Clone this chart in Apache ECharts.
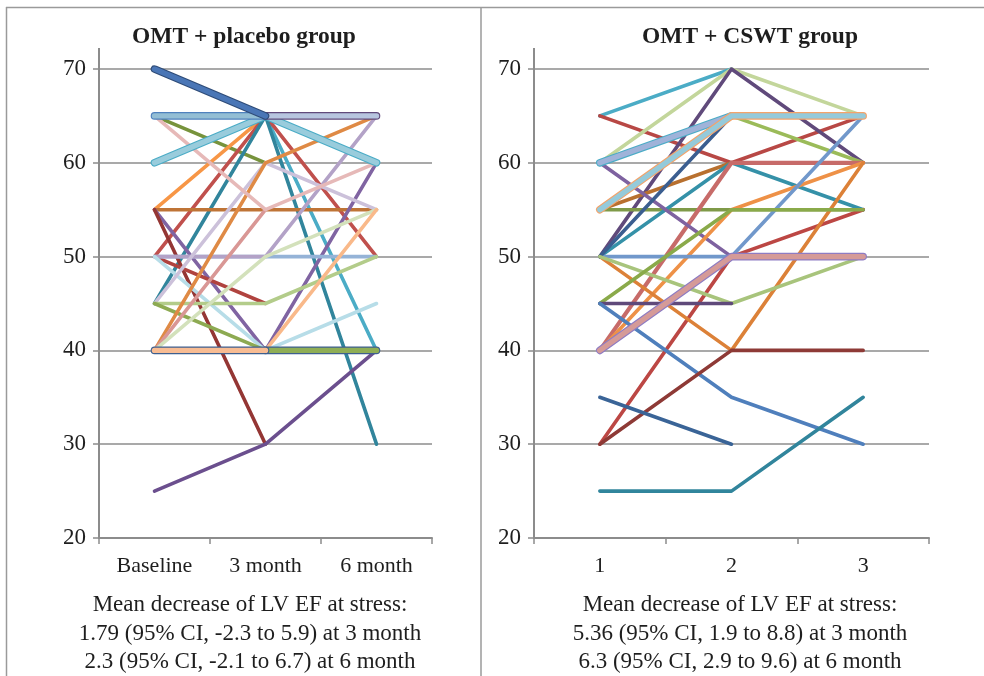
<!DOCTYPE html>
<html>
<head>
<meta charset="utf-8">
<script src="https://cdn.jsdelivr.net/npm/echarts@6/dist/echarts.min.js"></script>
<style>
  html, body { margin: 0; padding: 0; background: #fff; }
  #chart { width: 984px; height: 676px; }
</style>
</head>
<body>
<div id="chart"></div>
<script>
// ---- data: LV EF at stress (%) per patient, one row per patient ----
const placeboCategories = ['Baseline', '3 month', '6 month'];
const cswtCategories = ['1', '2', '3'];

const placeboValues = [
  [60, 65, 40],
  [65, 60, null],
  [55, 65, null],
  [50, 65, 50],
  [45, 65, 30],
  [55, 55, 55],
  [55, 40, 60],
  [55, 30, null],
  [50, 45, null],
  [50, 50, 50],
  [50, 50, 65],
  [50, 40, 45],
  [45, 60, 55],
  [45, 45, 50],
  [45, 40, null],
  [40, 60, 65],
  [40, 55, null],
  [65, 55, 60],
  [40, 50, 55],
  [40, 40, 55],
  [25, 30, 40],
  [null, 40, 40],
  [40, 40, null],
  [60, 65, 60],
  [65, 65, null],
  [null, 65, 65],
  [70, 65, null]
];

const cswtValues = [
  [65, 70, null],
  [65, 60, 65],
  [60, 70, 65],
  [50, 70, 60],
  [60, 65, 60],
  [55, 60, null],
  [55, 55, 55],
  [50, 60, 55],
  [40, 60, 60],
  [60, 50, 50],
  [40, 55, 60],
  [50, 50, 65],
  [30, 50, 55],
  [50, 40, 60],
  [50, 65, null],
  [50, 45, 50],
  [45, 55, 55],
  [45, 45, null],
  [45, 35, 30],
  [30, 40, 40],
  [35, 30, null],
  [25, 25, 35],
  [60, 65, null],
  [55, 65, 65],
  [40, 50, 50]
];

const placeboTitle = 'OMT + placebo group';
const cswtTitle = 'OMT + CSWT group';
const placeboNotes = [
  'Mean decrease of LV EF at stress:',
  '1.79 (95% CI, -2.3 to 5.9) at 3 month',
  '2.3 (95% CI, -2.1 to 6.7) at 6 month'
];
const cswtNotes = [
  'Mean decrease of LV EF at stress:',
  '5.36 (95% CI, 1.9 to 8.8) at 3 month',
  '6.3 (95% CI, 2.9 to 9.6) at 6 month'
];

// ---- line styles (same order as the value rows) ----
const THIN = 3.6;
const THICK = 5.4;
const placeboStyles = [
  { c: '#4BACC6' }, { c: '#77933C' }, { c: '#F79646' }, { c: '#C0504D' },
  { c: '#31859C' }, { c: '#BF7436' }, { c: '#8064A2' }, { c: '#943634' },
  { c: '#B0433F' }, { c: '#95B3D7' }, { c: '#B3A2C7' }, { c: '#B7DDE8' },
  { c: '#CCC1DA' }, { c: '#B3CC8A' }, { c: '#8DAA52' }, { c: '#DF8A45' },
  { c: '#D99795' }, { c: '#E6B9B8' }, { c: '#D3E1BB' }, { c: '#F9B98A' },
  { c: '#6B4F8E' },
  { c: '#8FAE55', w: THICK, edge: '#3E5F8F' },
  { c: '#F8BC93', w: THICK, edge: '#3E5F8F' },
  { c: '#99CCDC', w: THICK, edge: '#4BACC6' },
  { c: '#93BED4', w: THICK, edge: '#4F81BD' },
  { c: '#B7C5DF', w: THICK, edge: '#604A7B' },
  { c: '#4A76B6', w: THICK, edge: '#2F4C78' }
];
const cswtStyles = [
  { c: '#4BACC6' }, { c: '#B84845' }, { c: '#C3D69B' }, { c: '#604A7B' },
  { c: '#9BBB59' }, { c: '#B8702F' }, { c: '#7F9A48' }, { c: '#3591A8' },
  { c: '#C76B69', w: 4.2 }, { c: '#7E62A0' }, { c: '#EE9147' }, { c: '#7198CB' },
  { c: '#BC4744' }, { c: '#DC8138' }, { c: '#3B5E90' }, { c: '#A8C47C' },
  { c: '#8AAA4A' }, { c: '#5F497A' }, { c: '#4F7FBC' }, { c: '#8E3A36' },
  { c: '#3A6497' }, { c: '#31859C' },
  { c: '#9FB3D9', w: THICK, edge: '#4BACC6' },
  { c: '#95CADA', w: THICK, edge: '#F4A36A' },
  { c: '#D59A98', w: THICK, edge: '#8E7CC3' }
];

// ---- layout ----
const GRID_L = { left: 99, top: 69, width: 333, height: 469 };
const GRID_R = { left: 534, top: 69, width: 395, height: 469 };
const AXIS_COLOR = '#8C8C8C';
const TEXT_COLOR = '#1E1E1E';
const FONT = '"Liberation Serif", "DejaVu Serif", serif';

function buildSeries(rows, styles, axisIndex) {
  const out = [];
  rows.forEach((row, i) => {
    const st = styles[i];
    const w = st.w || THIN;
    const base = {
      type: 'line',
      xAxisIndex: axisIndex,
      yAxisIndex: axisIndex,
      data: row,
      symbol: 'none',
      silent: true,
      animation: false,
      connectNulls: false,
      z: 2
    };
    if (st.edge) {
      out.push(Object.assign({}, base, {
        lineStyle: { color: st.edge, width: w + 2.2, cap: 'round', join: 'round' }
      }));
    }
    out.push(Object.assign({}, base, {
      lineStyle: { color: st.c, width: w, cap: 'round', join: 'round' }
    }));
  });
  return out;
}

function yAxisFor(gridIndex) {
  return {
    type: 'value',
    gridIndex: gridIndex,
    min: 20,
    max: 70,
    interval: 10,
    axisLine: { show: true, lineStyle: { color: AXIS_COLOR, width: 2 } },
    axisTick: { show: true, length: 6, lineStyle: { color: AXIS_COLOR, width: 1.5 } },
    axisLabel: { color: TEXT_COLOR, fontFamily: FONT, fontSize: 23, margin: 13 },
    splitLine: { show: true, lineStyle: { color: AXIS_COLOR, width: 1.5 } }
  };
}

function xAxisFor(gridIndex, cats) {
  return {
    type: 'category',
    gridIndex: gridIndex,
    data: cats,
    boundaryGap: true,
    axisLine: { show: true, onZero: false, lineStyle: { color: AXIS_COLOR, width: 2 } },
    axisTick: { show: true, length: 6, alignWithLabel: false, lineStyle: { color: AXIS_COLOR, width: 1.5 } },
    axisLabel: { color: TEXT_COLOR, fontFamily: FONT, fontSize: 22, margin: 17, interval: 0 },
    splitLine: { show: false }
  };
}

function textEl(str, x, y, bold, size) {
  return {
    type: 'text',
    silent: true,
    style: {
      text: str, x: x, y: y,
      textAlign: 'center', textVerticalAlign: 'middle',
      font: (bold ? 'bold ' : '') + size + 'px ' + FONT,
      fill: TEXT_COLOR
    }
  };
}

function lineEl(x1, y1, x2, y2, color, width) {
  return {
    type: 'line', silent: true,
    shape: { x1: x1, y1: y1, x2: x2, y2: y2 },
    style: { stroke: color, lineWidth: width }
  };
}

const graphics = [
  // frame and panel divider
  lineEl(6, 7.5, 984, 7.5, '#9A9A9A', 1.5),
  lineEl(6.5, 7, 6.5, 676, '#9A9A9A', 1.5),
  lineEl(481, 7, 481, 676, '#9A9A9A', 1.5),
  // value axes run a little above the top gridline
  lineEl(GRID_L.left, 48, GRID_L.left, GRID_L.top, AXIS_COLOR, 2),
  lineEl(GRID_R.left, 48, GRID_R.left, GRID_R.top, AXIS_COLOR, 2),
  textEl(placeboTitle, 244, 37, true, 23.5),
  textEl(cswtTitle, 750, 37, true, 23.5)
];
placeboNotes.forEach((t, i) => graphics.push(textEl(t, 250, 605 + i * 28.5, false, 23)));
cswtNotes.forEach((t, i) => graphics.push(textEl(t, 740, 605 + i * 28.5, false, 23)));

const chart = echarts.init(document.getElementById('chart'), null, { renderer: 'canvas' });
chart.setOption({
  backgroundColor: '#ffffff',
  animation: false,
  grid: [
    Object.assign({ containLabel: false }, GRID_L),
    Object.assign({ containLabel: false }, GRID_R)
  ],
  xAxis: [xAxisFor(0, placeboCategories), xAxisFor(1, cswtCategories)],
  yAxis: [yAxisFor(0), yAxisFor(1)],
  series: buildSeries(placeboValues, placeboStyles, 0).concat(buildSeries(cswtValues, cswtStyles, 1)),
  graphic: graphics
});
</script>
</body>
</html>
